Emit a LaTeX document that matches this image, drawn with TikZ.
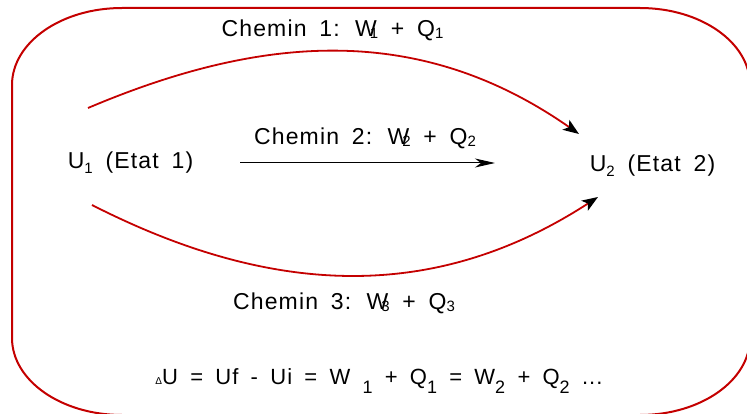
\documentclass[tikz,border=0pt]{standalone}
\usepackage{fontspec}
\setmainfont{Liberation Sans}[LetterSpace=5, WordSpace=1.7]
\usetikzlibrary{arrows.meta}
\definecolor{thred}{HTML}{C40000}
\newcommand{\lsub}[1]{\raisebox{-2pt}{\fontsize{15}{15}\selectfont #1}}
\newcommand{\usub}[1]{\raisebox{-5pt}{\fontsize{15}{15}\selectfont #1}}
\newcommand{\esub}[1]{\raisebox{-9pt}{\fontsize{18}{18}\selectfont #1}}
\tikzset{
  every picture/.style={line join=round},
  frame/.style={draw=thred, line width=2pt},
  chemin/.style={draw=thred, line width=1.8pt,
    -{Stealth[length=16pt, width=12pt, inset=4pt, black]}},
  direct/.style={draw=black, line width=1pt,
    -{Stealth[length=20pt, width=9pt, inset=6pt]}},
  etat/.style={font=\fontsize{23}{27}\selectfont, inner sep=0pt, anchor=base},
  lbl/.style={etat},
  bilan/.style={etat, font=\fontsize{22}{26}\selectfont},
}

\begin{document}
\begin{tikzpicture}[x=1pt, y=1pt]
\useasboundingbox (0,0) rectangle (747,-414);
\clip (0,0) rectangle (747,-414);

% ---- Cadre (system boundary)
\draw[frame] (12,-85) -- (12,-338)
  arc[start angle=180, end angle=270, x radius=110, y radius=77] -- (640,-415)
  arc[start angle=270, end angle=360, x radius=110, y radius=77] -- (750,-85)
  arc[start angle=0, end angle=90, x radius=110, y radius=77] -- (122,-8)
  arc[start angle=90, end angle=180, x radius=110, y radius=77] -- cycle;

% ---- Etats
\node[etat] (u1) at (130.5,-169) {U\usub{1} (Etat 1)};
\node[etat] (u2) at (652.5,-172) {U\usub{2} (Etat 2)};

% ---- Chemins
\coordinate (c1s) at (88,-108);
\coordinate (c1e) at (579,-134);
\coordinate (c2s) at (240,-163);
\coordinate (c2e) at (495,-163);
\coordinate (c3s) at (92,-205);
\coordinate (c3e) at (598,-197);

\draw[chemin] (c1s) to[out=23, in=145] (c1e);
\draw[direct] (c2s) -- (c2e);
\draw[chemin] (c3s) to[out=-27, in=-147] (c3e);

\node[lbl] (l1) at (332.5,-37) {Chemin 1: W\kern-7pt\lsub{1} + Q\lsub{1}};
\node[lbl] (l2) at (365,-145) {Chemin 2: W\kern-7pt\lsub{2} + Q\lsub{2}};
\node[lbl] (l3) at (344,-309) {Chemin 3: W\kern-7pt\lsub{3} + Q\lsub{3}};

% ---- Bilan
\node[bilan] (eq) at (379,-384)
  {{\fontsize{10}{10}\selectfont Δ}U = Uf - Ui = W \esub{1} + Q\esub{1} = W\esub{2} + Q\esub{2} ...};

\end{tikzpicture}
\end{document}
